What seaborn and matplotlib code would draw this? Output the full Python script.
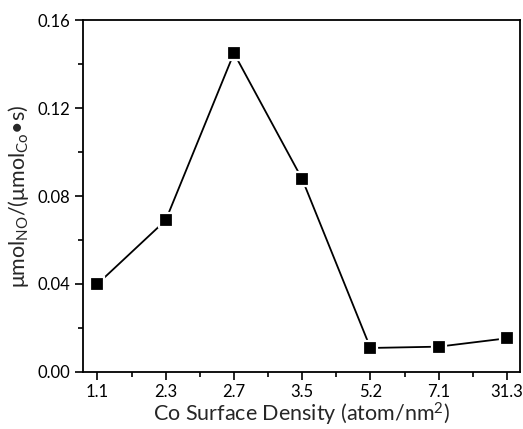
import matplotlib
matplotlib.use('Agg')
import matplotlib.pyplot as plt
from matplotlib.ticker import MultipleLocator, FormatStrFormatter
import seaborn as sns

# Co surface density categories and NO oxidation rate
density = ['1.1', '2.3', '2.7', '3.5', '5.2', '7.1', '31.3']
rate = [0.040, 0.069, 0.145, 0.0877, 0.0109, 0.0115, 0.0153]

sns.set_theme(style='ticks')
plt.rcParams['font.family'] = ['Lato', 'DejaVu Sans']
plt.rcParams['mathtext.fontset'] = 'custom'
plt.rcParams['mathtext.rm'] = 'Lato'
plt.rcParams['mathtext.it'] = 'Lato:italic'

fig = plt.figure(figsize=(5.23, 4.29), dpi=100)
ax = fig.add_axes([0.159, 0.133, 0.835, 0.820])

sns.pointplot(x=density, y=rate, order=density, color='black',
              markers='s', linestyles='-', markersize=9.5, linewidth=1.3,
              markeredgecolor='white', markeredgewidth=1.6, ax=ax)

ax.set_xlim(-0.21, 6.19)
ax.set_ylim(0, 0.16)
ax.yaxis.set_major_locator(MultipleLocator(0.04))
ax.yaxis.set_minor_locator(MultipleLocator(0.02))
ax.yaxis.set_major_formatter(FormatStrFormatter('%.2f'))
ax.set_xticks(range(len(density)))
ax.set_xticks([i + 0.5 for i in range(len(density) - 1)], minor=True)

for side in ax.spines.values():
    side.set_linewidth(1.3)
    side.set_color('black')
ax.tick_params(which='major', direction='out', length=6, width=1.2,
               labelsize=12, colors='black', pad=3)
ax.tick_params(which='minor', direction='out', length=3.5, width=1.2,
               colors='black')
ax.grid(False)

ax.set_xlabel('Co Surface Density (atom/nm$^{2}$)', fontsize=15.5, labelpad=0)
ax.set_ylabel(r'μmol$_{\mathrm{NO}}$/(μmol$_{\mathrm{Co}}$•s)', fontsize=15.5,
              labelpad=5)

fig.savefig('out.png', dpi=100)
plt.close(fig)
